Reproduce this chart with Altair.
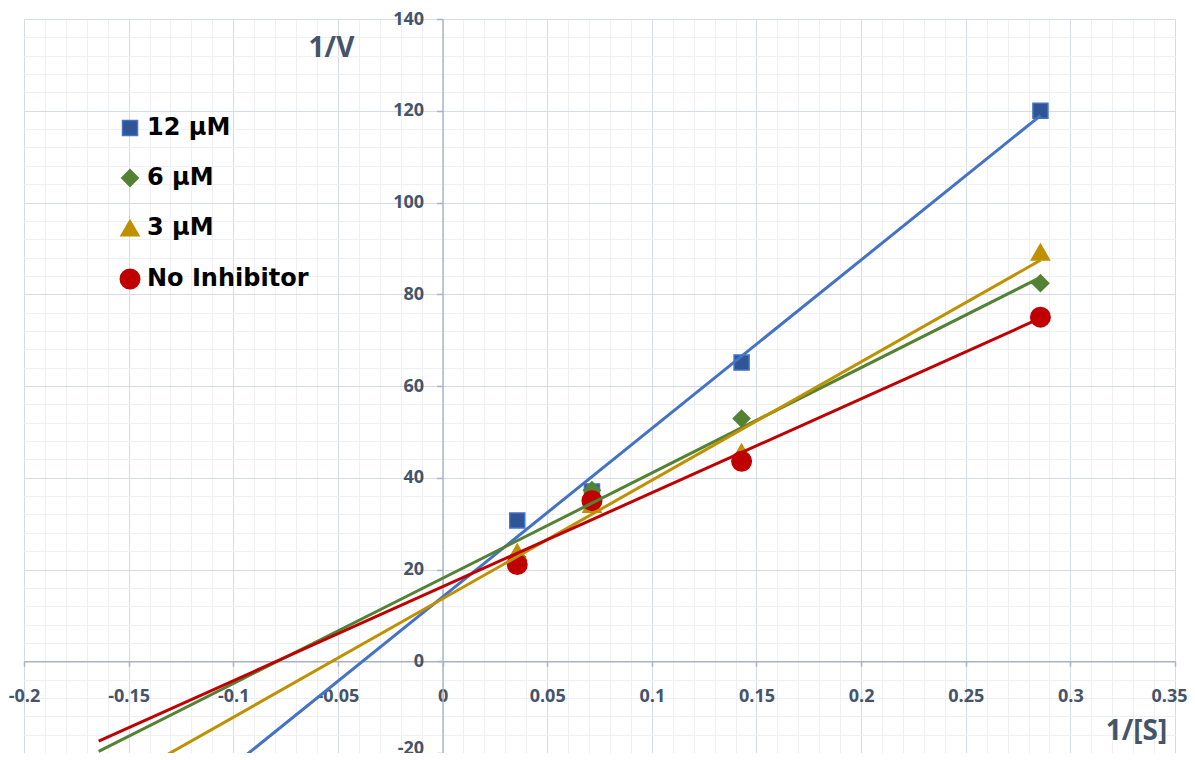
import altair as alt
import pandas as pd

# ---- data ----
inv_s = [0.0357, 0.0714, 0.1429, 0.2857]          # 1/[S]
series_names = ["12 µM", "6 µM", "3 µM", "No Inhibitor"]
v_12 = [30.7, 37.0, 65.1, 120.0]
v_6 = [22.7, 37.3, 52.9, 82.4]
v_3 = [23.8, 34.2, 45.6, 89.2]
v_0 = [21.1, 35.0, 43.6, 75.0]
x_ticks = [-0.2, -0.15, -0.1, -0.05, 0, 0.05, 0.1, 0.15, 0.2, 0.25, 0.3, 0.35]
y_ticks = [-20, 0, 20, 40, 60, 80, 100, 120, 140]
backward_forecast = 0.2

# ---- styles ----
line_colors = ["#4472C4", "#548235", "#BF9000", "#C00000"]
fill_colors = ["#2F5597", "#548235", "#BF9000", "#C00000"]
stroke_colors = ["#4472C4", "#548235", "#BF9000", "#C00000"]
shapes = ["square", "diamond", "triangle-up", "circle"]
sizes = [225, 380, 360, 180]
text_col = "#44546A"
axis_col = "#A9B3C4"

rows = []
for name, vals in zip(series_names, [v_12, v_6, v_3, v_0]):
    for xv, yv in zip(inv_s, vals):
        rows.append({"series": name, "x": xv, "y": yv})
df = pd.DataFrame(rows)

W, H = 1151, 734
XD = [x_ticks[0], x_ticks[-1]]
YD = [y_ticks[0], y_ticks[-1]]
xs = alt.Scale(domain=XD, nice=False, zero=False)
ys = alt.Scale(domain=YD, nice=False, zero=False)

x0_px = W * (0 - XD[0]) / (XD[1] - XD[0])        # pixel of x = 0 from left
y0_px = H * (YD[1] - 0) / (YD[1] - YD[0])        # pixel of y = 0 from top
y_axis_offset = -x0_px
x_axis_offset = -(H - y0_px)

minor_x = [i / 100 for i in range(-20, 36) if i % 5 != 0]
minor_y = [v for v in range(-20, 141, 4) if v % 20 != 0]
major_x = [v for v in x_ticks if v != 0]
major_y = [v for v in y_ticks if v != 0]


def grid_axis(vals, color, orient):
    return alt.Axis(values=vals, grid=True, gridColor=color, gridWidth=1, orient=orient,
                    labels=False, ticks=False, domain=False, title=None)


minor = alt.Chart(df).mark_point(opacity=0).encode(
    x=alt.X("x:Q", scale=xs, axis=grid_axis(minor_x, "#EEF0F4", "top")),
    y=alt.Y("y:Q", scale=ys, axis=grid_axis(minor_y, "#EEF0F4", "right")),
)
major = alt.Chart(df).mark_point(opacity=0).encode(
    x=alt.X("x:Q", scale=xs, axis=grid_axis(major_x, "#D6DCE5", "top")),
    y=alt.Y("y:Q", scale=ys, axis=grid_axis(major_y, "#D6DCE5", "right")),
)

x_axis = alt.Axis(
    orient="bottom", values=x_ticks, grid=False, offset=x_axis_offset,
    domainColor=axis_col, domainWidth=1.5, tickColor=axis_col, tickWidth=1.5, tickSize=5,
    labelFont="Open Sans", labelFontWeight="bold", labelFontSize=18, labelColor=text_col,
    labelPadding=21, labelFlush=False, labelOverlap=False, labelExpr="'' + datum.value",
    labelOffset=alt.ExprRef(expr=f"datum.value >= {x_ticks[-1]} ? -6 : 0"),
    title="1/[S]", titleX=1112, titleY=712 - y0_px,
    titleAlign="center", titleBaseline="middle", titleAngle=0,
    titleFont="Open Sans", titleFontSize=28, titleFontWeight="bold", titleColor=text_col,
)
y_axis = alt.Axis(
    orient="left", values=y_ticks, grid=False, offset=y_axis_offset,
    domainColor=axis_col, domainWidth=1.5, tickColor=axis_col, tickWidth=1.5, tickSize=6,
    labelFont="Open Sans", labelFontWeight="bold", labelFontSize=18, labelColor=text_col,
    labelPadding=13, labelFlush=False, labelOverlap=False, labelExpr="'' + datum.value",
    labelOffset=alt.ExprRef(expr=f"datum.value <= {y_ticks[0]} ? -5 : 0"),
    title="1/V", titleX=307 - x0_px, titleY=29,
    titleAlign="center", titleBaseline="middle", titleAngle=0,
    titleFont="Open Sans", titleFontSize=28, titleFontWeight="bold", titleColor=text_col,
)

leg = alt.Legend(
    orient="none", legendX=94, legendY=97, direction="vertical", title=None,
    labelFont="DejaVu Sans", labelFontSize=24, labelFontWeight="bold", labelColor="black",
    labelLimit=400, rowPadding=26, labelOffset=5, symbolStrokeWidth=1.5, symbolOpacity=1,
)

points = alt.Chart(df).mark_point(filled=True, opacity=1, strokeWidth=1.5).encode(
    x=alt.X("x:Q", scale=xs, axis=x_axis),
    y=alt.Y("y:Q", scale=ys, axis=y_axis),
    fill=alt.Fill("series:N", scale=alt.Scale(domain=series_names, range=fill_colors), legend=leg, title=None),
    stroke=alt.Stroke("series:N", scale=alt.Scale(domain=series_names, range=stroke_colors), legend=leg, title=None),
    shape=alt.Shape("series:N", scale=alt.Scale(domain=series_names, range=shapes), legend=leg, title=None),
    size=alt.Size("series:N", scale=alt.Scale(domain=series_names, range=sizes), legend=leg, title=None),
)

lines = alt.Chart(df).transform_regression(
    "x", "y", groupby=["series"], extent=[min(inv_s) - backward_forecast, max(inv_s)]
).mark_line(strokeWidth=3, clip=True).encode(
    x=alt.X("x:Q", scale=xs, axis=None),
    y=alt.Y("y:Q", scale=ys, axis=None),
    color=alt.Color("series:N", scale=alt.Scale(domain=series_names, range=line_colors), legend=None),
)

chart = alt.layer(minor, major, points, lines).resolve_axis(
    x="independent", y="independent"
).properties(
    width=W, height=H,
    padding={"left": 16, "top": 11, "right": 12, "bottom": 0},
    autosize=alt.AutoSizeParams(type="none"),
    background="white",
).configure_view(strokeWidth=0)

chart.save("out.html", embed_options={"renderer": "svg", "actions": False})
